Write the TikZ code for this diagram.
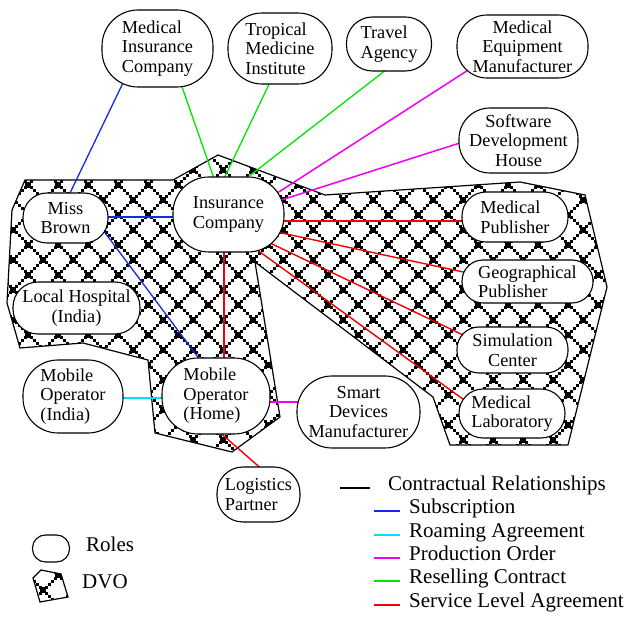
\documentclass[tikz,border=0pt]{standalone}
\usepackage{fontspec}
\setmainfont{Liberation Serif}
\usetikzlibrary{calc}

\definecolor{cSub}{RGB}{20,40,230}
\definecolor{cRoam}{RGB}{0,225,240}
\definecolor{cProd}{RGB}{240,0,240}
\definecolor{cResell}{RGB}{0,230,0}
\definecolor{cSLA}{RGB}{240,0,0}

% Lattice fill: stepped dots along the two diagonal families
% x-y = -7+30a and x+y = 3+30b, with large dots at their crossings.
% Arguments: xmin, xmax, ymin, ymax of the area to cover (y grows downward).
\newcommand\dvolattice[4]{%
  \foreach \a in {-20,...,18}{%
    \pgfmathtruncatemacro\nlo{max((#1+2)/3,(#3-7+30*\a+2)/3)-1}%
    \pgfmathtruncatemacro\nhi{min((#2+2)/3,(#4-7+30*\a+2)/3)+1}%
    \ifnum\nlo<\nhi
      \foreach \n in {\nlo,...,\nhi}{%
        \fill ({3*\n-3.5},{3*\n+3.5-30*\a}) rectangle +(3,3);}%
    \fi}%
  \foreach \b in {3,...,37}{%
    \pgfmathtruncatemacro\nlo{max((#1+2)/3,(5+30*\b-#4)/3)-1}%
    \pgfmathtruncatemacro\nhi{min((#2+2)/3,(5+30*\b-#3)/3)+1}%
    \ifnum\nlo<\nhi
      \foreach \n in {\nlo,...,\nhi}{%
        \fill ({3*\n-3.5},{3.5+30*\b-3*\n}) rectangle +(3,3);}%
    \fi}%
  \pgfmathtruncatemacro\ilo{(#1-13)/30-1}%
  \pgfmathtruncatemacro\ihi{(#2-13)/30+1}%
  \pgfmathtruncatemacro\jlo{(#3-20)/30-1}%
  \pgfmathtruncatemacro\jhi{(#4-5)/30+1}%
  \foreach \i in {\ilo,...,\ihi}{%
    \foreach \j in {\jlo,...,\jhi}{%
      \fill ({9.7+30*\i},{16.7+30*\j}) rectangle +(6.6,6.6);
      \fill ({24.7+30*\i},{1.7+30*\j}) rectangle +(6.6,6.6);}}%
}

\pgfdeclarelayer{bg}
\pgfsetlayers{bg,main}

\tikzset{
  role/.style={draw, fill=white, line width=1.1pt, inner sep=0pt,
    rounded corners=#1, font=\fontsize{18.3}{19.5}\selectfont},
  dvoline/.style={draw, line width=1.2pt, line join=miter},
  contract/.style={draw=black, line width=2pt},
  sub/.style={draw=cSub, line width=1.3pt},
  roam/.style={draw=cRoam, line width=1.8pt},
  prod/.style={draw=cProd, line width=1.5pt},
  resell/.style={draw=cResell, line width=1.3pt},
  sla/.style={draw=cSLA, line width=1.4pt},
  legtext/.style={anchor=mid west, inner sep=0pt, font=\fontsize{21}{23}\selectfont},
}

\begin{document}
\begin{tikzpicture}[x=1pt,y=-1pt]
\useasboundingbox (0,0) rectangle (627,617);

% roles
\node[role=36pt, minimum width=111pt, minimum height=77pt, align=left] (mic) at (157.5,48.5) {Medical\\Insurance\\Company};
\node[role=34pt, minimum width=104pt, minimum height=71pt, align=left] (tmi) at (280,48.5) {Tropical\\Medicine\\Institute};
\node[role=26pt, minimum width=85pt, minimum height=54pt, align=left] (ta) at (389,44) {Travel\\Agency};
\node[role=30pt, minimum width=131pt, minimum height=63pt, align=center] (mem) at (522.5,46.5) {Medical\\Equipment\\Manufacturer};
\node[role=31pt, minimum width=119pt, minimum height=65pt, align=center] (sdh) at (518.5,140.5) {Software\\Development\\House};
\node[role=36pt, minimum width=111pt, minimum height=75pt, align=center] (ins) at (228.5,214.5) {Insurance\\Company};
\node[role=24pt, minimum width=85pt, minimum height=50pt, align=center] (mb) at (65.5,218) {Miss\\Brown};
\node[role=25pt, minimum width=127pt, minimum height=52pt, align=center] (lh) at (76.5,308) {Local Hospital\\(India)};
\node[role=35pt, minimum width=100pt, minimum height=73pt, align=left] (moi) at (73,396.5) {Mobile\\Operator\\(India)};
\node[role=36pt, minimum width=108pt, minimum height=76pt, align=left] (moh) at (216,396) {Mobile\\Operator\\(Home)};
\node[role=35pt, minimum width=123pt, minimum height=72pt, align=center] (sdm) at (358.5,412) {Smart\\Devices\\Manufacturer};
\node[role=24pt, minimum width=106pt, minimum height=50pt, align=left] (mp) at (515,217) {Medical\\Publisher};
\node[role=21pt, minimum width=131pt, minimum height=43pt, align=left] (gp) at (527.5,281.5) {Geographical\\Publisher};
\node[role=22pt, minimum width=111pt, minimum height=46pt, align=center] (sc) at (512.5,350) {Simulation\\Center};
\node[role=24pt, minimum width=106pt, minimum height=49pt, align=left] (ml) at (512,413.5) {Medical\\Laboratory};
\node[role=26pt, minimum width=83pt, minimum height=55pt, align=left] (lp) at (258.5,494.5) {Logistics\\Partner};

\begin{pgfonlayer}{bg}
  % the dynamic virtual organisation
  \draw[dvoline, path picture={\dvolattice{0}{615}{140}{460}}]
    (25,180) -- (173,180) -- (218,155) -- (325,195) -- (520,182) -- (585,195)
    -- (607,287) -- (568,445) -- (450,445) -- (433,397) -- (255,262) -- (280,417)
    -- (232,452) -- (155,433) -- (148,360) -- (83,343) -- (20,348) -- (7,303)
    -- (12,210) -- cycle;

  % subscriptions
  \draw[sub] ($(mic)+(-32.8,30.9)$) -- ($(mb)+(2.8,-21.4)$);
  \draw[sub, line width=2.2pt] ($(mb)+(40,-1)$) -- ($(ins)+(-52,2.5)$);
  \draw[sub] ($(mb)+(34.5,8)$) -- ($(moh)+(-13,-32)$);
  % reselling contracts
  \draw[resell] ($(mic)+(22.9,33.7)$) -- ($(ins)+(-13.5,-33.1)$);
  \draw[resell] ($(tmi)+(-9.3,32.2)$) -- ($(ins)+(-5.7,-33.3)$);
  \draw[resell] ($(ta)+(0.9,22.9)$) -- ($(ins)+(15.9,-34.7)$);
  % production orders
  \draw[prod] ($(mem)+(-50.8,21.3)$) -- ($(ins)+(44.8,-19)$);
  \draw[prod] ($(sdh)+(-55.5,1.5)$) -- ($(ins)+(46.5,-12.5)$);
  \draw[prod, line width=2.2pt] ($(moh)+(50,6)$) -- ($(sdm)+(-58,-10)$);
  % service level agreements
  \draw[sla, line width=2pt] ($(ins)+(52,6.5)$) -- ($(mp)+(-50,4)$);
  \draw[sla] ($(ins)+(49.5,17.7)$) -- ($(gp)+(-60.5,-8.7)$);
  \draw[sla] ($(ins)+(37.9,26.8)$) -- ($(sc)+(-45.9,-13.3)$);
  \draw[sla] ($(ins)+(25,32.8)$) -- ($(ml)+(-47,-12.9)$);
  \draw[sla, line width=2pt] ($(ins)+(-4.5,34)$) -- ($(moh)+(8,-34)$);
  \draw[sla] ($(moh)+(2.7,35.4)$) -- ($(lp)+(3.8,-24.9)$);
  % roaming agreement
  \draw[roam] ($(moi)+(47,1.5)$) -- ($(moh)+(-51,2)$);
\end{pgfonlayer}

% legend
\node[role=13pt, minimum width=37pt, minimum height=27pt] (rolesicon) at (51,548.5) {};
\node[legtext] (rolestext) at (86,549) {Roles};
\draw[dvoline, path picture={\dvolattice{28}{72}{565}{606}}]
  (33,578) -- (41,570) -- (61,574) -- (68,597) -- (40,602) -- cycle;
\node[legtext] (dvotext) at (82,586) {DVO};

\draw[contract] (340,488) -- (370,488);
\node[legtext] (lgcontract) at (388,488) {Contractual Relationships};
\draw[sub, line width=2pt] (374,511) -- (400,511);
\node[legtext] (lgsub) at (409,511) {Subscription};
\draw[roam, line width=2pt] (374,535) -- (400,535);
\node[legtext] (lgroam) at (409,535) {Roaming Agreement};
\draw[prod, line width=2pt] (374,558) -- (400,558);
\node[legtext] (lgprod) at (409,558) {Production Order};
\draw[resell, line width=2pt] (374,581) -- (400,581);
\node[legtext] (lgresell) at (409,581) {Reselling Contract};
\draw[sla, line width=2pt] (374,605) -- (400,605);
\node[legtext] (lgsla) at (409,605) {Service Level Agreement};
\end{tikzpicture}
\end{document}
